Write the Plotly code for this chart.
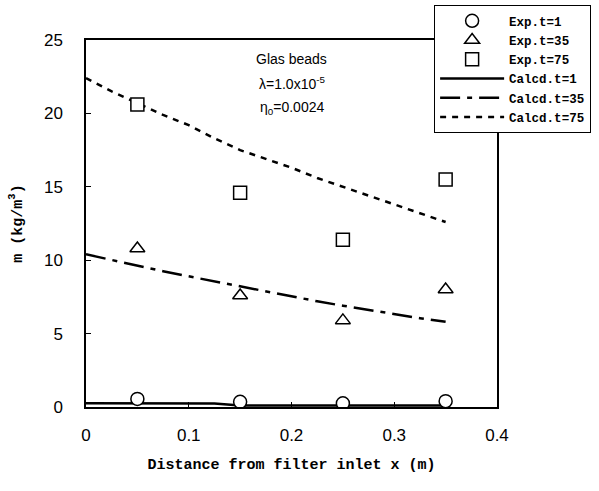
import plotly.graph_objects as go

# Experimental data
exp_x = [0.05, 0.15, 0.25, 0.35]
exp_t1 = [0.55, 0.35, 0.25, 0.4]
exp_t35 = [10.8, 7.6, 5.9, 8.0]
exp_t75 = [20.6, 14.6, 11.4, 15.5]

# Calculated curves
calc_x = [0.0, 0.025, 0.05, 0.075, 0.1, 0.125, 0.15, 0.175, 0.2, 0.225, 0.25, 0.275, 0.3, 0.325, 0.35]
calc_t1 = [0.25, 0.25, 0.25, 0.25, 0.25, 0.24, 0.1, 0.1, 0.1, 0.1, 0.1, 0.1, 0.1, 0.1, 0.1]
calc_t35 = [10.4, 10.0, 9.6, 9.25, 8.9, 8.55, 8.2, 7.85, 7.5, 7.2, 6.9, 6.6, 6.3, 6.05, 5.8]
calc_t75 = [22.4, 21.5, 20.7, 19.9, 19.2, 18.3, 17.5, 16.9, 16.3, 15.6, 15.0, 14.4, 13.8, 13.2, 12.6]

x_ticks = [0, 0.1, 0.2, 0.3, 0.4]
x_labels = ["0", "0.1", "0.2", "0.3", "0.4"]
y_ticks = [0, 5, 10, 15, 20, 25]

fig = go.Figure()
fig.add_trace(go.Scatter(x=calc_x, y=calc_t1, mode="lines", name="<b>Calcd.t=1</b>", legendrank=4,
                         line=dict(color="black", width=2.5)))
fig.add_trace(go.Scatter(x=calc_x, y=calc_t35, mode="lines", name="<b>Calcd.t=35</b>", legendrank=5,
                         line=dict(color="black", width=2.5, dash="20px,7px,5px,7px")))
fig.add_trace(go.Scatter(x=calc_x, y=calc_t75, mode="lines", name="<b>Calcd.t=75</b>", legendrank=6,
                         line=dict(color="black", width=2.5, dash="6px,6px")))
mk = dict(size=13, color="white", line=dict(color="black", width=1.5))
fig.add_trace(go.Scatter(x=exp_x, y=exp_t1, mode="markers", name="<b>Exp.t=1</b>", legendrank=1,
                         marker=dict(symbol="circle", **mk)))
fig.add_trace(go.Scatter(x=exp_x, y=exp_t35, mode="markers", name="<b>Exp.t=35</b>", legendrank=2,
                         marker=dict(symbol="triangle-up", **mk)))
fig.add_trace(go.Scatter(x=exp_x, y=exp_t75, mode="markers", name="<b>Exp.t=75</b>", legendrank=3,
                         marker=dict(symbol="square", **mk)))

fig.update_layout(
    width=599, height=491,
    margin=dict(l=86, r=102, t=40, b=84, autoexpand=False),
    paper_bgcolor="white", plot_bgcolor="white",
    showlegend=True,
    legend=dict(x=0.847, y=1.095, xanchor="left", yanchor="top",
                bgcolor="white", bordercolor="black", borderwidth=1,
                font=dict(family="Liberation Mono", size=12.5, color="black"),
                traceorder="normal", tracegroupgap=0, itemwidth=64),
    xaxis=dict(range=[0, 0.4], tickvals=x_ticks, ticktext=x_labels,
               showline=True, linecolor="black", linewidth=1.5, mirror=True,
               ticks="inside", ticklen=5, tickcolor="black", showgrid=False, zeroline=False,
               automargin=False, ticklabelstandoff=12,
               tickfont=dict(family="Liberation Sans", size=17, color="black"),
               title=dict(text="<b>Distance from filter inlet x (m)</b>",
                          font=dict(family="Liberation Mono", size=15, color="black"), standoff=14)),
    yaxis=dict(range=[0, 25], tickvals=y_ticks,
               showline=True, linecolor="black", linewidth=1.5, mirror=True,
               ticks="inside", ticklen=5, tickcolor="black", showgrid=False, zeroline=False,
               automargin=False, ticklabelstandoff=18,
               tickfont=dict(family="Liberation Sans", size=17, color="black"),
               title=dict(text="<b>m (kg/m<sup>3</sup>)</b>",
                          font=dict(family="Liberation Mono", size=15, color="black"), standoff=18)),
)

fig.add_annotation(x=0.2, y=23.7, xref="x", yref="y", showarrow=False,
                   text="Glas beads", font=dict(family="Liberation Sans", size=14, color="black"))
fig.add_annotation(x=0.2, y=22.1, xref="x", yref="y", showarrow=False,
                   text="λ=1.0x10<sup>-5</sup>", font=dict(family="Liberation Sans", size=14, color="black"))
fig.add_annotation(x=0.2, y=20.4, xref="x", yref="y", showarrow=False,
                   text="η<sub>0</sub>=0.0024", font=dict(family="Liberation Sans", size=14, color="black"))

fig.write_html("out.html", config={"displayModeBar": False},
               post_script="document.body.style.margin='0';")
